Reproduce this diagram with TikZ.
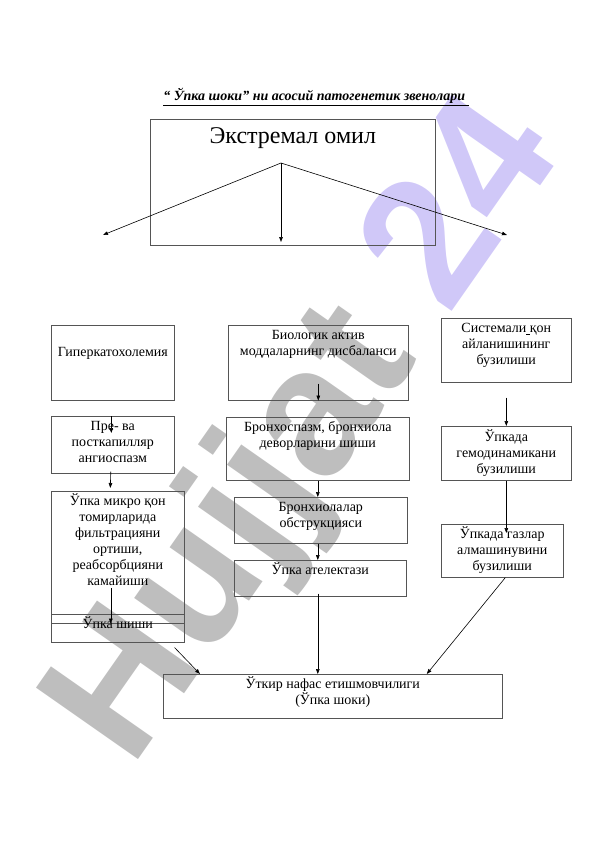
\documentclass[tikz,border=0pt]{standalone}
\usepackage{fontspec}
\setmainfont{Liberation Serif}
\setsansfont{Liberation Sans}
\usetikzlibrary{arrows.meta,calc}
\definecolor{wmgray}{RGB}{190,190,190}
\definecolor{wmlav}{RGB}{208,200,248}
\definecolor{boxline}{RGB}{85,85,85}
\newcommand{\bxt}[4]{\parbox[c][#2][t]{#1}{\centering\lineskiplimit=-30pt\rule{0pt}{#3}#4\par}}
\begin{document}
\begin{tikzpicture}[x=1pt,y=-1pt,
  box/.style={draw=boxline,line width=0.6pt,inner sep=0pt,anchor=north west,
    font=\fontsize{14pt}{16pt}\selectfont},
  arr/.style={-{Triangle[length=5pt,width=3.6pt]},line width=0.6pt,black}]
\useasboundingbox (0,0) rectangle (596,842);
% watermark
\node[anchor=base west,inner sep=0pt,rotate=55,
  font=\fontsize{181pt}{181pt}\selectfont\sffamily\bfseries] (wm) at (131,770)
  {\textcolor{wmgray}{Hujjat} \textcolor{wmlav}{24}};
% title
\node[anchor=base,inner sep=0pt,font=\fontsize{14pt}{16pt}\selectfont\bfseries\itshape]
  (title) at (316,101) {\underline{“ Ўпка шоки” ни асосий патогенетик звенолари\ }};
% boxes
\node[box,font=\fontsize{24pt}{28pt}\selectfont] (ext) at (150,119) {\bxt{285pt}{126pt}{24pt}{Экстремал омил}};
\node[box] (hyp) at (51,325) {\bxt{123pt}{75pt}{31pt}{Гиперкатохолемия}};
\node[box] (bio) at (228,325) {\bxt{180pt}{75pt}{14pt}{Биологик актив\\моддаларнинг дисбаланси}};
\node[box] (sys) at (441,318) {\bxt{130pt}{64pt}{14pt}{Системали\underline{\ }қон\\айланишининг\\бузилиши}};
\node[box] (gemo) at (441,426) {\bxt{130pt}{54pt}{15pt}{Ўпкада\\гемодинамикани\\бузилиши}};
\node[box] (gas) at (441,524) {\bxt{122pt}{53pt}{14pt}{Ўпкада газлар\\алмашинувини\\бузилиши}};
\node[box] (pre) at (51,416) {\bxt{123pt}{57pt}{14pt}{Пре- ва\\посткапилляр\\ангиоспазм}};
\node[box] (mic) at (51,491) {\bxt{133pt}{151pt}{14pt}{Ўпка микро қон\\томирларида\\фильтрацияни\\ортиши,\\реабсорбцияни\\камайиши}};
\node[box] (shish) at (51,614) {\bxt{133pt}{9pt}{14pt}{Ўпка шиши}};
\node[box] (bro) at (226,417) {\bxt{183pt}{63pt}{14pt}{Бронхоспазм, бронхиола\\деворларини шиши}};
\node[box] (brl) at (234,497) {\bxt{173pt}{46pt}{14pt}{Бронхиолалар\\обструкцияси}};
\node[box] (atl) at (234,560) {\bxt{172pt}{36pt}{14pt}{Ўпка ателектази}};
\node[box] (acute) at (163,674) {\bxt{339pt}{44pt}{14pt}{Ўткир нафас етишмовчилиги\\(Ўпка шоки)}};
% free ends of the top arrows
\coordinate (apex) at (281,163);
\coordinate (tipL) at (103,235);
\coordinate (tipC) at (281,242);
\coordinate (tipR) at (507,235);
\draw[arr] (apex) -- (tipL);
\draw[arr] (apex) -- (tipC);
\draw[arr] (apex) -- (tipR);
% connectors
\draw[arr] ($(bio.south)+(0,-17)$) -- (bio.south);
\draw[arr] ($(sys.south)+(0,15)$) -- (gemo.north);
\draw[arr] (gemo.south) -- ($(gemo.south |- gas.north)+(0,9)$);
\draw[arr] ($(gas.south)+(3,0)$) -- ($(acute.north)+(94,0)$);
\draw[arr] ($(pre.north)+(-1.5,0)$) -- ++(0,17);
\draw[arr] ($(pre.south)+(-2,-2)$) -- ($(mic.north)+(-7.5,-3)$);
\draw[arr] ($(mic.north)+(-7,97)$) -- ($(shish.south)+(-7,0)$);
\draw[arr] ($(mic.south east)+(-10,5)$) -- ($(acute.north west)+(37,0)$);
\draw[arr] (bro.south) -- (bro.south |- brl.north);
\draw[arr] (bro.south |- brl.south) -- (bro.south |- atl.north);
\draw[arr] ($(bro.south |- atl.south)+(0,-3)$) -- (bro.south |- acute.north);
\end{tikzpicture}
\end{document}
